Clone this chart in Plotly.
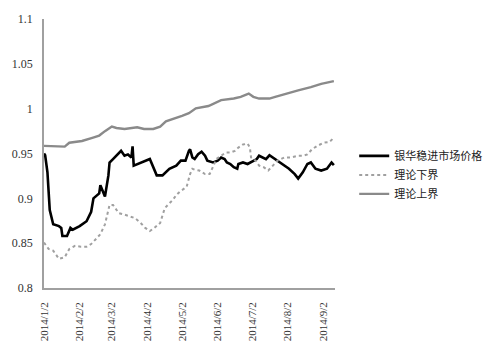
import plotly.graph_objects as go

market_dates = ["2014-01-02","2014-01-03","2014-01-05","2014-01-07","2014-01-10","2014-01-15","2014-01-17","2014-01-18",
    "2014-01-22","2014-01-25","2014-01-27","2014-02-02","2014-02-08","2014-02-12","2014-02-14","2014-02-19","2014-02-20",
    "2014-02-24","2014-02-27","2014-02-28","2014-03-03","2014-03-06","2014-03-10","2014-03-13","2014-03-16","2014-03-19",
    "2014-03-20","2014-03-21","2014-03-27","2014-04-04","2014-04-10","2014-04-15","2014-04-21","2014-04-27","2014-05-01",
    "2014-05-05","2014-05-08","2014-05-09","2014-05-11","2014-05-13","2014-05-16","2014-05-19","2014-05-22","2014-05-24",
    "2014-05-29","2014-06-02","2014-06-05","2014-06-08","2014-06-10","2014-06-13","2014-06-16","2014-06-19","2014-06-20",
    "2014-06-24","2014-06-28","2014-07-02","2014-07-06","2014-07-08","2014-07-14","2014-07-17","2014-07-22","2014-07-28",
    "2014-08-03","2014-08-08","2014-08-11","2014-08-15","2014-08-19","2014-08-22","2014-08-26","2014-08-31","2014-09-05",
    "2014-09-09","2014-09-11"]
market_values = [0.950,0.948,0.929,0.887,0.871,0.869,0.867,0.858,
    0.858,0.867,0.865,0.869,0.8745,0.885,0.900,0.9055,0.9146,
    0.902,0.9256,0.940,0.9438,0.9475,0.953,0.9475,0.949,0.9456,
    0.958,0.9365,0.940,0.9438,0.9256,0.9256,0.933,0.9365,0.942,
    0.942,0.953,0.9547,0.9456,0.9438,0.9492,0.952,0.9475,0.942,
    0.940,0.942,0.9456,0.9438,0.940,0.9383,0.9347,0.933,0.9383,
    0.940,0.9383,0.941,0.9438,0.9475,0.9438,0.948,0.9438,0.9383,
    0.933,0.927,0.922,0.929,0.9383,0.940,0.933,0.931,0.933,
    0.940,0.937]

lower_dates = ["2014-01-02","2014-01-06","2014-01-10","2014-01-15","2014-01-20","2014-01-24","2014-01-29","2014-02-03",
    "2014-02-08","2014-02-12","2014-02-16","2014-02-20","2014-02-24","2014-02-28","2014-03-03","2014-03-08","2014-03-13",
    "2014-03-18","2014-03-22","2014-03-27","2014-03-31","2014-04-04","2014-04-08","2014-04-13","2014-04-17","2014-04-21",
    "2014-04-24","2014-04-27","2014-04-30","2014-05-06","2014-05-09","2014-05-11","2014-05-13","2014-05-17","2014-05-22",
    "2014-05-26","2014-05-29","2014-06-01","2014-06-05","2014-06-09","2014-06-13","2014-06-17","2014-06-20","2014-06-24",
    "2014-06-28","2014-06-30","2014-07-01","2014-07-05","2014-07-08","2014-07-12","2014-07-16","2014-07-20","2014-07-24",
    "2014-07-30","2014-08-05","2014-08-11","2014-08-15","2014-08-19","2014-08-23","2014-08-27","2014-09-02","2014-09-07",
    "2014-09-11"]
lower_values = [0.8507,0.8435,0.8416,0.8325,0.8343,0.8435,0.847,0.846,
    0.846,0.849,0.8544,0.860,0.871,0.8927,0.8927,0.8835,0.8818,
    0.880,0.878,0.8726,0.867,0.8635,0.867,0.8726,0.889,0.8945,
    0.8982,0.9037,0.9073,0.9128,0.927,0.933,0.932,0.931,0.927,
    0.927,0.9347,0.944,0.9475,0.951,0.951,0.953,0.9566,0.960,
    0.961,0.9566,0.9456,0.942,0.9365,0.9347,0.931,0.9365,0.942,
    0.9456,0.9456,0.9475,0.9475,0.949,0.9547,0.958,0.962,0.9628,
    0.9675]

upper_dates = ["2014-01-02","2014-01-13","2014-01-20","2014-01-24","2014-02-04","2014-02-13","2014-02-19","2014-02-24",
    "2014-03-02","2014-03-06","2014-03-13","2014-03-24","2014-03-30","2014-04-07","2014-04-13","2014-04-18","2014-04-27",
    "2014-05-02","2014-05-08","2014-05-14","2014-05-25","2014-06-05","2014-06-16","2014-06-22","2014-06-29","2014-07-03",
    "2014-07-08","2014-07-17","2014-07-22","2014-07-31","2014-08-11","2014-08-22","2014-08-31","2014-09-11"]
upper_values = [0.9585,0.9585,0.9577,0.962,0.964,0.9675,0.970,0.9749,
    0.980,0.9785,0.9774,0.9792,0.9774,0.9774,0.980,0.9858,0.9894,
    0.992,0.9949,1.0004,1.003,1.0095,1.0113,1.0132,1.0168,1.0132,
    1.0113,1.0113,1.0132,1.0168,1.0205,1.024,1.0277,1.0307]

tick_dates = ["2014-01-02","2014-02-02","2014-03-02","2014-04-02","2014-05-02","2014-06-02","2014-07-02","2014-08-02","2014-09-02"]
tick_labels = ["2014/1/2","2014/2/2","2014/3/2","2014/4/2","2014/5/2","2014/6/2","2014/7/2","2014/8/2","2014/9/2"]
y_ticks = [0.8, 0.85, 0.9, 0.95, 1.0, 1.05, 1.1]
y_labels = ["0.8", "0.85", "0.9", "0.95", "1", "1.05", "1.1"]

fig = go.Figure()
fig.add_trace(go.Scatter(x=market_dates, y=market_values, mode="lines", name="银华稳进市场价格",
                         line=dict(color="#000000", width=2.6)))
fig.add_trace(go.Scatter(x=lower_dates, y=lower_values, mode="lines", name="理论下界",
                         line=dict(color="#a0a0a0", width=2, dash="dot")))
fig.add_trace(go.Scatter(x=upper_dates, y=upper_values, mode="lines", name="理论上界",
                         line=dict(color="#8a8a8a", width=2.4)))

fig.update_layout(
    width=499, height=353,
    margin=dict(l=43, r=154, t=14, b=65),
    paper_bgcolor="white", plot_bgcolor="white",
    showlegend=True,
    legend=dict(x=1.066, y=0.545, xanchor="left", yanchor="top",
                font=dict(family="Noto Sans CJK SC", size=11, color="#222222"),
                itemwidth=30, tracegroupgap=0, bgcolor="rgba(0,0,0,0)"),
    xaxis=dict(type="date", range=["2014-01-02", "2014-09-12"],
               tickvals=tick_dates, ticktext=tick_labels, tickangle=-90,
               showgrid=False, zeroline=False, showline=True, linecolor="#a0a0a0", linewidth=1.5,
               ticks="", ticklabelstandoff=8,
               tickfont=dict(family="Liberation Serif", size=11, color="#333333")),
    yaxis=dict(range=[0.8, 1.1], tickvals=y_ticks, ticktext=y_labels,
               showgrid=False, zeroline=False, showline=True, linecolor="#a0a0a0", linewidth=1.5,
               ticks="", ticklabelstandoff=7,
               tickfont=dict(family="Liberation Serif", size=12, color="#333333")),
)

fig.write_html("out.html")
